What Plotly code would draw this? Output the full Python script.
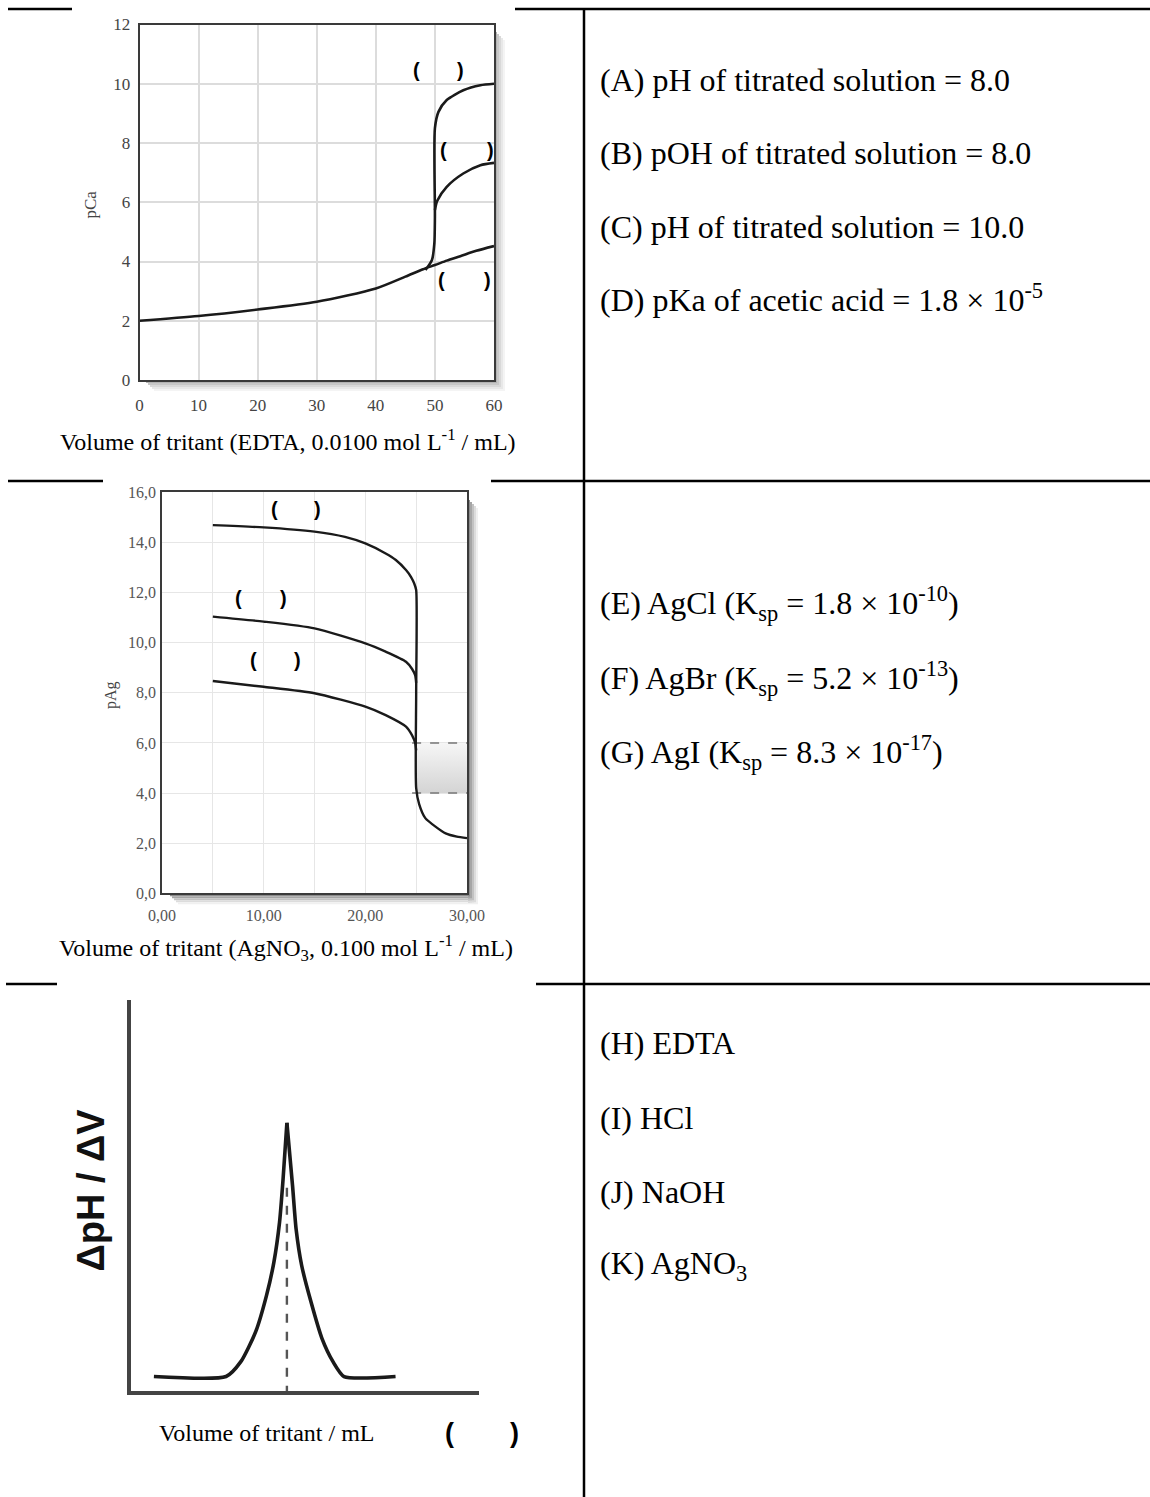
import plotly.graph_objects as go

W, H = 1150, 1497


def px(x):
    return x / W


def py(y):
    return 1 - y / H


# ---------------- Data ----------------
# Chart 1: EDTA titration of Ca2+ (pCa vs volume)
edta_vol_low = [0, 10, 20, 30, 40, 45, 48, 50, 52, 54.3, 57, 60]
edta_pca_low = [2.0, 2.16, 2.38, 2.64, 3.09, 3.49, 3.74, 3.88, 4.03, 4.18, 4.36, 4.52]
edta_vol_mid = [50.0, 50.4, 52.0, 54.8, 57.7, 60]
edta_pca_mid = [5.74, 6.05, 6.52, 6.97, 7.25, 7.33]
edta_vol_high = [48.4, 49.5, 49.9, 50.0, 50.0, 50.6, 52.0, 54.8, 57.7, 60]
edta_pca_high = [3.71, 4.05, 4.6, 5.5, 8.5, 9.05, 9.45, 9.78, 9.95, 10.0]
pca_ticks = [0, 2, 4, 6, 8, 10, 12]
edta_vol_ticks = [0, 10, 20, 30, 40, 50, 60]

# Chart 2: AgNO3 titration of halides (pAg vs volume)
ag_vol_i = [5, 10, 15, 18, 20, 22, 23, 24, 24.5, 24.8, 25.0, 25.0, 25.0, 25.3, 25.9, 26.9, 27.9, 29, 30]
ag_pag_i = [14.69, 14.60, 14.43, 14.22, 13.96, 13.56, 13.30, 12.90, 12.62, 12.37, 12.1, 8.0, 4.2, 3.55, 3.0, 2.66, 2.39, 2.26, 2.2]
ag_vol_br = [5, 10, 15, 20, 22, 24, 24.6, 24.9, 25.0]
ag_pag_br = [11.04, 10.84, 10.57, 9.97, 9.64, 9.24, 8.95, 8.7, 8.4]
ag_vol_cl = [5, 10, 15, 20, 22, 24, 24.6, 24.9, 25.0]
ag_pag_cl = [8.47, 8.24, 7.98, 7.45, 7.11, 6.65, 6.3, 6.0, 5.7]
shade_vol = [25.0, 30.0]
shade_pag = [4.0, 6.0]
dash_vol = [24.6, 30.0]
pag_ticks = [0, 2, 4, 6, 8, 10, 12, 14, 16]
pag_tick_labels = ["0,0", "2,0", "4,0", "6,0", "8,0", "10,0", "12,0", "14,0", "16,0"]
ag_vol_ticks = [0, 5, 10, 15, 20, 25, 30]
ag_vol_tick_labels = ["0,00", " ", "10,00", " ", "20,00", " ", "30,00"]

# Chart 3: first derivative curve
deriv_vol_left = [2.6, 10.9, 12.6, 14.3, 15.55, 16.4, 17.05, 17.46, 17.9]
deriv_val_left = [0.37, 0.37, 0.75, 1.51, 2.44, 3.29, 4.31, 5.42, 6.86]
deriv_vol_right = [17.9, 18.55, 18.96, 19.6, 20.67, 21.94, 23.2, 24.47, 30.4]
deriv_val_right = [6.86, 5.25, 4.14, 3.21, 2.28, 1.34, 0.75, 0.37, 0.37]
equiv_vol = [17.9, 17.9]
equiv_val = [5.2, -0.1]

# Right-column option texts
row1_texts = [
    "(A) pH of titrated solution = 8.0",
    "(B) pOH of titrated solution = 8.0",
    "(C) pH of titrated solution = 10.0",
    "(D) pKa of acetic acid = 1.8 × 10<sup>-5</sup>",
]
row2_texts = [
    "(E) AgCl (K<sub>sp</sub> = 1.8 × 10<sup>-10</sup>)",
    "(F) AgBr (K<sub>sp</sub> = 5.2 × 10<sup>-13</sup>)",
    "(G) AgI (K<sub>sp</sub> = 8.3 × 10<sup>-17</sup>)",
]
row3_texts = [
    "(H) EDTA",
    "(I) HCl",
    "(J) NaOH",
    "(K) AgNO<sub>3</sub>",
]

# ---------------- Figure ----------------
fig = go.Figure()
CURVE = "#1a1a1a"
SERIF = "Liberation Serif"
SANS = "Liberation Sans"

# Chart 1 traces
for xs, ys in [(edta_vol_low, edta_pca_low), (edta_vol_mid, edta_pca_mid), (edta_vol_high, edta_pca_high)]:
    fig.add_trace(go.Scatter(x=xs, y=ys, mode="lines", xaxis="x", yaxis="y",
                             line=dict(color=CURVE, width=2.6, shape="spline", smoothing=0.7),
                             hoverinfo="skip"))

# Chart 2 traces
fig.add_trace(go.Scatter(
    x=[shade_vol[0], shade_vol[1], shade_vol[1], shade_vol[0], shade_vol[0]],
    y=[shade_pag[0], shade_pag[0], shade_pag[1], shade_pag[1], shade_pag[0]],
    mode="none", fill="toself", xaxis="x2", yaxis="y2",
    fillgradient=dict(type="vertical", colorscale=[[0, "#d4d4d4"], [1, "#f6f6f6"]]),
    hoverinfo="skip"))
for yv in shade_pag:
    fig.add_trace(go.Scatter(x=dash_vol, y=[yv, yv], mode="lines", xaxis="x2", yaxis="y2",
                             line=dict(color="#777777", width=1.6, dash="dash"), hoverinfo="skip"))
for xs, ys in [(ag_vol_i, ag_pag_i), (ag_vol_br, ag_pag_br), (ag_vol_cl, ag_pag_cl)]:
    fig.add_trace(go.Scatter(x=xs, y=ys, mode="lines", xaxis="x2", yaxis="y2",
                             line=dict(color=CURVE, width=2.4, shape="spline", smoothing=0.6),
                             hoverinfo="skip"))

# Chart 3 traces
fig.add_trace(go.Scatter(x=equiv_vol, y=equiv_val, mode="lines", xaxis="x3", yaxis="y3",
                         line=dict(color="#555555", width=2.4, dash="dash"), hoverinfo="skip",
                         cliponaxis=False))
for xs, ys in [(deriv_vol_left, deriv_val_left), (deriv_vol_right, deriv_val_right)]:
    fig.add_trace(go.Scatter(x=xs, y=ys, mode="lines", xaxis="x3", yaxis="y3",
                             line=dict(color=CURVE, width=3.6, shape="spline", smoothing=0.6),
                             hoverinfo="skip"))

# ---------------- Axes ----------------
frame = dict(showline=True, mirror=True, linecolor="#3a3a3a", linewidth=1.6,
             showgrid=True, zeroline=False, ticks="", automargin=False)

fig.update_layout(
    xaxis=dict(domain=[px(139.5), px(494)], range=[0, 60], tickvals=edta_vol_ticks,
               gridcolor="#dcdcdc", gridwidth=1.6, ticklabelstandoff=9,
               tickfont=dict(family=SERIF, size=17, color="#444444"), anchor="y", **frame),
    yaxis=dict(domain=[py(380), py(24.5)], range=[0, 12], tickvals=pca_ticks,
               gridcolor="#dcdcdc", gridwidth=1.6, ticklabelstandoff=4,
               tickfont=dict(family=SERIF, size=17, color="#444444"), anchor="x", **frame),
    xaxis2=dict(domain=[px(162), px(467)], range=[0, 30], tickvals=ag_vol_ticks,
                ticktext=ag_vol_tick_labels, gridcolor="#e6e6e6", gridwidth=1.2,
                ticklabelstandoff=7,
                tickfont=dict(family=SERIF, size=16, color="#555555"), anchor="y2", **frame),
    yaxis2=dict(domain=[py(893.3), py(492.3)], range=[0, 16], tickvals=pag_ticks,
                ticktext=pag_tick_labels, gridcolor="#e6e6e6", gridwidth=1.2,
                ticklabelstandoff=1,
                tickfont=dict(family=SERIF, size=16, color="#555555"), anchor="x2", **frame),
    xaxis3=dict(domain=[px(131.3), px(479)], range=[0, 40], showline=True, linecolor="#444444",
                linewidth=3.5, showgrid=False, zeroline=False, showticklabels=False, ticks="",
                anchor="y3", automargin=False),
    yaxis3=dict(domain=[py(1391), py(1000)], range=[0, 10], showline=True, linecolor="#444444",
                linewidth=3.5, showgrid=False, zeroline=False, showticklabels=False, ticks="",
                anchor="x3", automargin=False),
)

# ---------------- Shapes (table rules, frame shadows) ----------------
shapes = []


def hline(y, x0, x1, w=2.5):
    shapes.append(dict(type="line", xref="paper", yref="paper", x0=px(x0), x1=px(x1),
                       y0=py(y), y1=py(y), line=dict(color="black", width=w)))


hline(9, 8, 72)
hline(9, 515, 1150)
hline(481, 8, 103)
hline(481, 491, 1150)
hline(984, 6, 57)
hline(984, 536, 1150)
shapes.append(dict(type="line", xref="paper", yref="paper", x0=px(584), x1=px(584),
                   y0=py(8), y1=py(1497), line=dict(color="black", width=2.5)))


def shadow(x_right, y_top, y_bottom, x_left, colors):
    for i, c in enumerate(colors):
        shapes.append(dict(type="rect", xref="paper", yref="paper",
                           x0=px(x_right + 1 + 2 * i), x1=px(x_right + 3 + 2 * i),
                           y0=py(y_bottom + 2 * len(colors)), y1=py(y_top + 2 * i),
                           line=dict(width=0), fillcolor=c, layer="below"))
        shapes.append(dict(type="rect", xref="paper", yref="paper",
                           x0=px(x_left + 2 * i), x1=px(x_right + 3 + 2 * i),
                           y0=py(y_bottom + 3 + 2 * i), y1=py(y_bottom + 1 + 2 * i),
                           line=dict(width=0), fillcolor=c, layer="below"))


shadow(494, 32, 380, 146, ["#b4b4b4", "#c8c8c8", "#d9d9d9", "#e8e8e8", "#f4f4f4"])
shadow(467, 500, 893.3, 170, ["#8c8c8c", "#a6a6a6", "#c2c2c2", "#dcdcdc", "#f0f0f0"])

fig.update_layout(shapes=shapes)

# ---------------- Annotations ----------------
ann = []


def text(x, y, s, size, family=SERIF, color="black", anchor="center", angle=0, bold=False):
    if bold:
        s = "<b>" + s + "</b>"
    ann.append(dict(xref="paper", yref="paper", x=px(x), y=py(y), text=s, showarrow=False,
                    xanchor=anchor, yanchor="middle", textangle=angle,
                    font=dict(family=family, size=size, color=color)))


# Chart 1 labels
text(90.6, 205, "pCa", 17, color="#444444", angle=-90)
text(288, 440, "Volume of tritant (EDTA, 0.0100 mol L<sup>-1</sup> / mL)", 24)
for (xl, xr, yy) in [(416, 460.6, 70), (443, 490, 150), (441, 487.6, 280)]:
    text(xl, yy, "(", 20, family=SANS, bold=True)
    text(xr, yy, ")", 20, family=SANS, bold=True)

# Chart 2 labels
text(111, 695, "pAg", 16, color="#444444", angle=-90)
text(286, 948, "Volume of tritant (AgNO<sub>3</sub>, 0.100 mol L<sup>-1</sup> / mL)", 24)
for (xl, xr, yy) in [(274, 317.4, 509), (238.6, 283, 598), (253.4, 297.8, 660)]:
    text(xl, yy, "(", 20, family=SANS, bold=True)
    text(xr, yy, ")", 20, family=SANS, bold=True)

# Chart 3 labels
text(90.6, 1190, "ΔpH / ΔV", 38, family=SANS, color="#111111", angle=-90, bold=True)
text(267, 1433, "Volume of tritant / mL", 24)
text(449.5, 1433, "(", 27, family=SANS, bold=True)
text(514, 1433, ")", 27, family=SANS, bold=True)

# Right column
for s, yy in zip(row1_texts, [80, 153, 227, 298]):
    text(598, yy, s, 32, anchor="left")
for s, yy in zip(row2_texts, [603, 678, 752]):
    text(598, yy, s, 32, anchor="left")
for s, yy in zip(row3_texts, [1043, 1118, 1192, 1265]):
    text(598, yy, s, 32, anchor="left")

fig.update_layout(
    template="none",
    annotations=ann,
    width=W, height=H,
    margin=dict(l=0, r=0, t=0, b=0, pad=0, autoexpand=False),
    paper_bgcolor="white", plot_bgcolor="white",
    showlegend=False,
)

fig.write_html("out.html", config={"displayModeBar": False},
               post_script="document.body.style.margin='0';document.body.style.overflow='hidden';")
